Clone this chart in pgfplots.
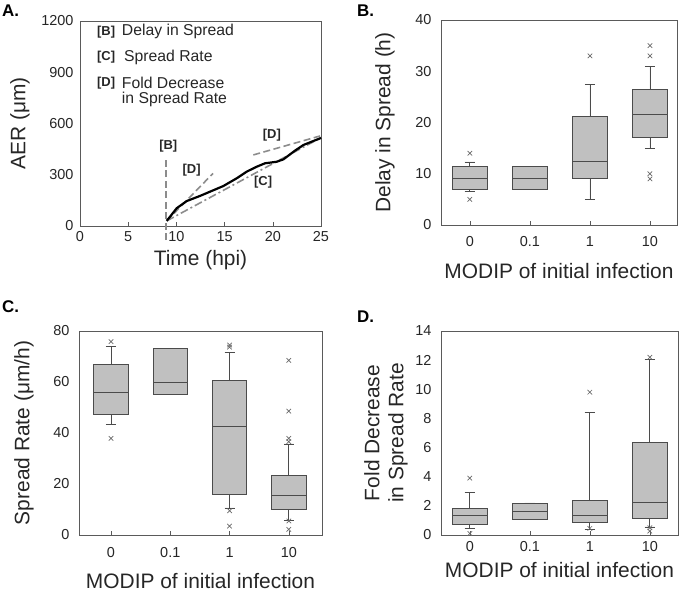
\documentclass[border=0pt]{standalone}
\usepackage{fontspec}
\setmainfont{Liberation Sans}
\usepackage{pgfplots}
\pgfplotsset{compat=1.18}
\usepgfplotslibrary{statistics}
\definecolor{boxfill}{RGB}{192,192,192}
\definecolor{boxdraw}{RGB}{75,75,75}
\definecolor{axline}{RGB}{90,90,90}
\definecolor{dashc}{RGB}{140,140,140}
\definecolor{outl}{RGB}{105,105,105}
\tikzset{
  lab/.style={font=\fontsize{15.8}{18}\selectfont, text=black!85, anchor=west, inner sep=0pt},
  blab/.style={font=\bfseries\fontsize{13}{15}\selectfont, text=black!85, inner sep=0pt},
  gdash/.style={dashc, line width=1.6pt, dash pattern=on 7pt off 3.5pt},
}
\pgfplotsset{
  panel/.style={
    scale only axis,
    anchor=south west,
    axis line style={axline, line width=0.9pt},
    /pgf/number format/assume math mode=true,
    /pgf/number format/1000 sep={},
    tick label style={font=\fontsize{14.5}{16}\selectfont, text=black!85},
    label style={font=\fontsize{21}{24}\selectfont, text=black!85},
    ytick style={draw=none},
    xtick style={axline, line width=0.6pt},
    major tick length=4bp,
    tick align=inside,
    xtick pos=bottom, ytick pos=left,
    clip=false,
  },
  boxpanel/.style={panel, xtick={0,1,2,3}, xticklabels={0,0.1,1,10},
    boxplot/draw direction=y,
    boxplot/box extend=0.58, boxplot/whisker extend=0.17,
    xlabel={MODIP of initial infection}},
  bx/.style={boxplot prepared={#1}, draw=boxdraw, fill=boxfill, line width=0.8pt,
    mark=x, mark size=3.2pt, mark options={draw=outl, fill=none, line width=0.7pt, solid}},
}
\begin{document}
\begin{tikzpicture}
\useasboundingbox (0,0) rectangle (680bp,592bp);
% Panel A
\begin{axis}[panel, at={(80bp,366bp)}, width=241bp, height=205bp,
  xmin=0, xmax=25, ymin=0, ymax=1200,
  xtick={0,5,...,25}, ytick={0,300,...,1200},
  xlabel={Time (hpi)}, ylabel={AER (μm)},
  xlabel style={at={([yshift=-34bp]axis description cs:0.5,0)}, anchor=center},
  ylabel style={at={([xshift=-60bp]axis description cs:0,0.5)}, anchor=center},
  xticklabel style={yshift=-2bp}, yticklabel style={xshift=-3bp}]
\addplot[gdash] coordinates {(8.9,-82) (8.9,392)};
\addplot[gdash] coordinates {(9,30) (13.8,308)};
\addplot[dashc, line width=1.6pt, dash pattern=on 8pt off 3pt on 2pt off 3pt] coordinates {(9,30) (24.6,505)};
\addplot[gdash] coordinates {(17.98,416) (24.9,527)};
\addplot[black, line width=2.2pt] coordinates {
(9,30) (10.03,104) (11.07,146) (12.45,176) (14.87,234) (16.25,279) (17.29,318)
(18.33,347) (19.19,367) (20.4,376) (21.1,390) (22.3,441) (23.17,474) (24.9,513) (25,516)};
\node[blab] at (axis cs:9.16,468) {[B]};
\node[blab] at (axis cs:11.58,328) {[D]};
\node[blab] at (axis cs:19.0,259) {[C]};
\node[blab] at (axis cs:19.9,533) {[D]};
\node[blab, anchor=west] at (axis cs:1.76,1136) {[B]};
\node[blab, anchor=west] at (axis cs:1.76,989) {[C]};
\node[blab, anchor=west] at (axis cs:1.76,837) {[D]};
\node[lab] at (axis cs:4.33,1136) {Delay in Spread};
\node[lab] at (axis cs:4.56,989) {Spread Rate};
\node[lab] at (axis cs:4.33,837) {Fold Decrease};
\node[lab] at (axis cs:4.33,738) {in Spread Rate};
\end{axis}
% Panel B
\begin{axis}[boxpanel, at={(441bp,367bp)}, width=236bp, height=205bp,
  xmin=-0.48, xmax=3.45, ymin=0, ymax=40, ytick={0,10,...,40},
  ylabel={Delay in Spread (h)},
  xlabel style={at={([yshift=-46bp]axis description cs:0.5,0)}, anchor=center},
  ylabel style={at={([xshift=-56bp]axis description cs:0,0.5)}, anchor=center},
  xticklabel style={yshift=-8bp}, yticklabel style={xshift=-6bp}]
\addplot[bx={draw position=0, lower whisker=6.5, lower quartile=7, median=9, upper quartile=11.5, upper whisker=12.3}]
  table[row sep=\\, y index=0] {y\\ 14\\ 5\\};
\addplot[bx={draw position=1, lower whisker=7, lower quartile=7, median=9, upper quartile=11.5, upper whisker=11.5}] coordinates {};
\addplot[bx={draw position=2, lower whisker=5, lower quartile=9, median=12.5, upper quartile=21.2, upper whisker=27.5}]
  table[row sep=\\, y index=0] {y\\ 33\\};
\addplot[bx={draw position=3, lower whisker=15, lower quartile=17, median=21.5, upper quartile=26.5, upper whisker=31}]
  table[row sep=\\, y index=0] {y\\ 35\\ 33\\ 10\\ 9\\};
\end{axis}
% Panel C
\begin{axis}[boxpanel, at={(79bp,57bp)}, width=243bp, height=204bp,
  xmin=-0.54, xmax=3.56, ymin=0, ymax=80, ytick={0,20,...,80},
  ylabel={Spread Rate (μm/h)},
  xlabel style={at={([yshift=-46bp]axis description cs:0.5,0)}, anchor=center},
  ylabel style={at={([xshift=-55bp]axis description cs:0,0.5)}, anchor=center},
  xticklabel style={yshift=-9bp}, yticklabel style={xshift=-6bp}]
\addplot[bx={draw position=0, lower whisker=43.3, lower quartile=47.2, median=55.8, upper quartile=66.9, upper whisker=73.9}]
  table[row sep=\\, y index=0] {y\\ 75.8\\ 37.9\\};
\addplot[bx={draw position=1, lower whisker=55, lower quartile=55, median=59.9, upper quartile=73.3, upper whisker=73.3}] coordinates {};
\addplot[bx={draw position=2, lower whisker=10.6, lower quartile=15.9, median=42.4, upper quartile=60.5, upper whisker=71.5}]
  table[row sep=\\, y index=0] {y\\ 74.5\\ 73.7\\ 9.5\\ 3.5\\};
\addplot[bx={draw position=3, lower whisker=5.75, lower quartile=10.1, median=15.7, upper quartile=23.5, upper whisker=35.7}]
  table[row sep=\\, y index=0] {y\\ 68.5\\ 48.6\\ 37.9\\ 36.6\\ 5.5\\ 2.2\\};
\end{axis}
% Panel D
\begin{axis}[boxpanel, at={(441bp,57bp)}, width=237bp, height=204bp,
  xmin=-0.48, xmax=3.47, ymin=0, ymax=14, ytick={0,2,...,14},
  ylabel={Fold Decrease\\in Spread Rate},
  xlabel style={at={([yshift=-35bp]axis description cs:0.5,0)}, anchor=center},
  ylabel style={at={([xshift=-55bp]axis description cs:0,0.5)}, anchor=center, align=center},
  xticklabel style={yshift=-3bp}, yticklabel style={xshift=-6bp}]
\addplot[bx={draw position=0, lower whisker=0.45, lower quartile=0.75, median=1.35, upper quartile=1.8, upper whisker=2.9}]
  table[row sep=\\, y index=0] {y\\ 3.9\\ 0.1\\};
\addplot[bx={draw position=1, lower whisker=1.08, lower quartile=1.08, median=1.65, upper quartile=2.2, upper whisker=2.2}] coordinates {};
\addplot[bx={draw position=2, lower whisker=0.4, lower quartile=0.87, median=1.35, upper quartile=2.35, upper whisker=8.4}]
  table[row sep=\\, y index=0] {y\\ 9.8\\ 0.45\\};
\addplot[bx={draw position=3, lower whisker=0.55, lower quartile=1.14, median=2.24, upper quartile=6.36, upper whisker=12.06}]
  table[row sep=\\, y index=0] {y\\ 12.2\\ 0.5\\ 0.27\\};
\end{axis}
\node[anchor=base west, inner sep=0pt, font=\bfseries\fontsize{17}{19}\selectfont] at (2bp,575bp) {A.};
\node[anchor=base west, inner sep=0pt, font=\bfseries\fontsize{17}{19}\selectfont] at (357bp,575bp) {B.};
\node[anchor=base west, inner sep=0pt, font=\bfseries\fontsize{17}{19}\selectfont] at (2bp,279bp) {C.};
\node[anchor=base west, inner sep=0pt, font=\bfseries\fontsize{17}{19}\selectfont] at (357bp,269bp) {D.};
\end{tikzpicture}
\end{document}
